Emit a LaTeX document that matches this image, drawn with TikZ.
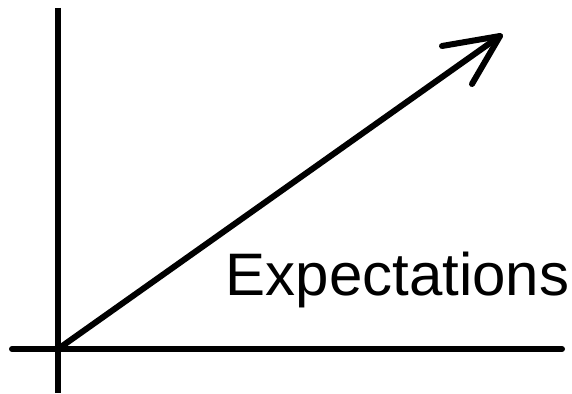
\documentclass[tikz,border=0pt]{standalone}
\usepackage{fontspec}
\setmainfont{Liberation Sans}
\begin{document}
\begin{tikzpicture}[x=1pt,y=-1pt,
  axis/.style={line width=6pt,line cap=round},
  label/.style={inner sep=0pt,anchor=base west,font=\fontsize{60}{62}\selectfont}]
\useasboundingbox (0,0) rectangle (572,393);
\coordinate (o) at (58,349);
\coordinate (ytop) at (58,8);
\coordinate (ybot) at (58,393);
\coordinate (xl) at (12,349);
\coordinate (xr) at (562,349);
\coordinate (tip) at (500,36);
\coordinate (b1) at (442,46);
\coordinate (b2) at (472,84);
\draw[line width=6pt] (ytop) -- (ybot);
\draw[axis] (xl) -- (xr);
\draw[axis] (o) -- (tip);
\draw[axis,line join=round] (b1) -- (tip) -- (b2);
\node[label] (t) at (225.5,295) {Expectations};
\end{tikzpicture}
\end{document}
